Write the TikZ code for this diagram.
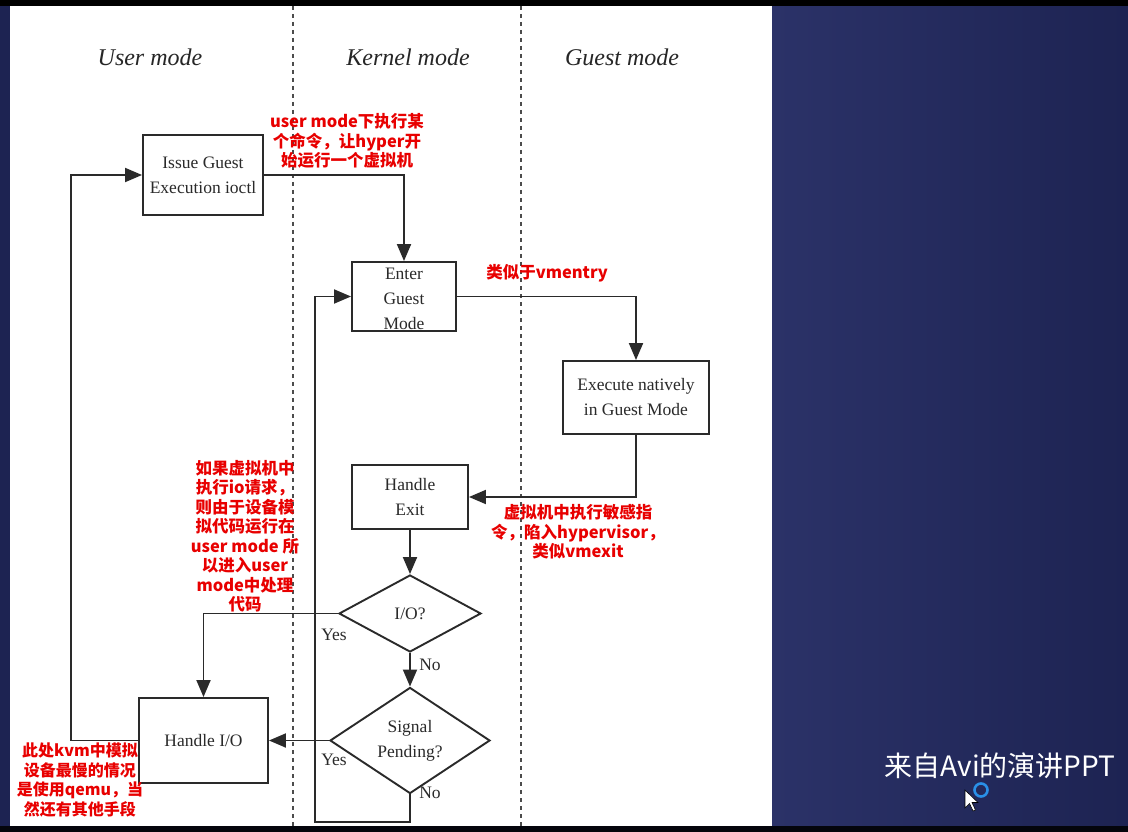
\documentclass[tikz,border=0pt]{standalone}
\usepackage{fontspec}
\setmainfont{Liberation Serif}
\newfontfamily\cjk{Noto Sans CJK SC}
\usetikzlibrary{shapes.geometric,arrows.meta}
\definecolor{ink}{HTML}{2A2A2A}
\definecolor{navyA}{HTML}{2B3268}
\definecolor{navyB}{HTML}{1D2352}
\definecolor{note}{HTML}{E80000}
\definecolor{ring}{HTML}{2A90E8}
\tikzset{
  box/.style={draw=ink, line width=1.9pt, fill=white, inner sep=0pt, align=center,
    text=ink, font=\fontsize{17.5}{25}\selectfont},
  dec/.style={diamond, draw=ink, line width=1.9pt, fill=white, inner sep=0pt, align=center,
    text=ink, font=\fontsize{17.5}{25}\selectfont},
  arr/.style={draw=ink, line width=1.9pt, -{Triangle[length=17pt,width=14pt]}},
  lbl/.style={text=ink, font=\fontsize{17.5}{20}\selectfont, inner sep=0pt},
  head/.style={text=black!85, font=\fontsize{24}{28}\selectfont\itshape, inner sep=0pt},
  redn/.style={text=note, font=\cjk\bfseries\fontsize{16.5}{19.5}\selectfont, align=center, inner sep=0pt},
  lane/.style={draw=black!70, line width=1.3pt, dash pattern=on 4pt off 4pt}
}
\begin{document}
\begin{tikzpicture}[x=1pt,y=-1pt]
\useasboundingbox (0,0) rectangle (1128,832);
% backgrounds
\fill[navyB] (0,0) rectangle (1128,832);
\shade[left color=navyA, right color=navyB] (772,0) rectangle (1128,832);
\fill[navyB] (0,0) rectangle (10,832);
\fill[black] (0,0) rectangle (1128,6);
\fill[black!85!navyB] (0,826) rectangle (1128,832);
\fill[white] (10,6) rectangle (772,826);
% lanes
\draw[lane] (293,6) -- (293,826);
\draw[lane] (521,6) -- (521,826);
% headers
\node[head] (hu) at (150,57) {User mode};
\node[head] (hk) at (408,57) {Kernel mode};
\node[head] (hg) at (622,57) {Guest mode};
% nodes
\node[box, minimum width=120pt, minimum height=80pt] (issue) at (203,175) {Issue Guest\\Execution ioctl};
\node[box, minimum width=104pt, minimum height=69pt] (enter) at (404,296.5) {};
\node[text=ink, font=\fontsize{17.5}{25}\selectfont, align=center, inner sep=0pt] (entert) at (404,299) {Enter\\Guest\\Mode};
\node[box, minimum width=146pt, minimum height=73pt] (exec) at (636,397.5) {Execute natively\\in Guest Mode};
\node[box, minimum width=116pt, minimum height=64pt] (hexit) at (410,497) {Handle\\Exit};
\node[dec, minimum width=142pt, minimum height=77pt] (io) at (410,613.5) {I/O?};
\node[dec, minimum width=160pt, minimum height=80pt] (sig) at (410,740.5) {Signal\\Pending?};
\node[box, minimum width=129pt, minimum height=85pt] (hio) at (203.5,740.5) {Handle I/O};
% helper coordinates
\coordinate (c1) at (410,822);
\coordinate (c2) at (315,822);
\coordinate (c3) at (71,740.5);
% connectors
\draw[arr] (issue.east) -| (enter.north);
\draw[arr] (enter.east) -| (exec.north);
\draw[arr] (exec.south) |- (hexit.east);
\draw[arr] (hexit.south) -- (io.north);
\draw[arr] (io.west) -| (hio.north);
\draw[arr] (io.south) -- (sig.north);
\draw[arr] (sig.west) -- (hio.east);
\draw[arr] (sig.south) -- (c1) -- (c2) |- (enter.west);
\draw[arr] (hio.west) -- (c3) |- (issue.west);
% labels
\node[lbl] (y1) at (334,635) {Yes};
\node[lbl] (n1) at (430,665) {No};
\node[lbl] (y2) at (334,760) {Yes};
\node[lbl] (n2) at (430,793) {No};
% red notes
\node[redn] (r1) at (347,141) {user mode下执行某\\个命令，让hyper开\\始运行一个虚拟机};
\node[redn] (r2) at (547,273) {类似于vmentry};
\node[redn] (r3) at (245,536) {如果虚拟机中\\执行io请求，\\则由于设备模\\拟代码运行在\\user mode 所\\以进入user\\mode中处理\\代码};
\node[redn] (r4) at (578,532) {虚拟机中执行敏感指\\令，陷入hypervisor，\\类似vmexit};
\node[redn, font=\cjk\bfseries\fontsize{16}{19.8}\selectfont] (r5) at (80,780) {此处kvm中模拟\\设备最慢的情况\\是使用qemu，当\\然还有其他手段};
% watermark
\node[text=white!92, font=\cjk\fontsize{28}{32}\selectfont, inner sep=0pt] (wm) at (1000,766) {来自Avi的演讲PPT};
% cursor
\draw[ring, line width=2.6pt] (981,790) circle (6.5pt);
\filldraw[fill=white, draw=black, line width=0.6pt] (965,790) -- (965,808) -- (969.5,803.5) -- (973,811) -- (975.5,810) -- (972,802.5) -- (978,802.5) -- cycle;
\end{tikzpicture}
\end{document}
